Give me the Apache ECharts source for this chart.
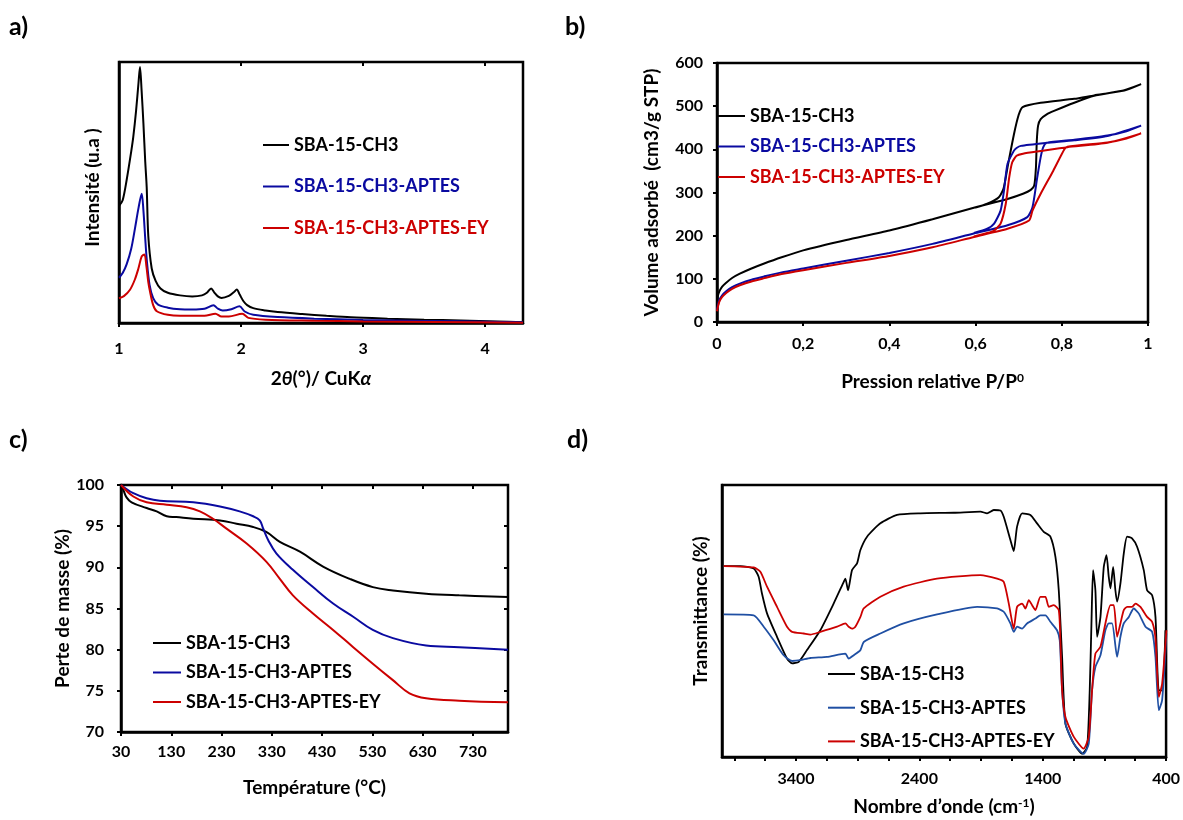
<!DOCTYPE html>
<html><head><meta charset="utf-8">
<script src="https://cdn.jsdelivr.net/npm/echarts@6/dist/echarts.min.js"></script>
<style>html,body{margin:0;padding:0;background:#fff}#c{width:1183px;height:820px}</style>
</head><body><div id="c"></div>
<script>
const seriesNames = ['SBA-15-CH3','SBA-15-CH3-APTES','SBA-15-CH3-APTES-EY'];

// a) XRD : [2theta, intensity (a.u.)]
const xrdCH3 = [[1.0,45.8],[1.03,48],[1.063,56],[1.1,67],[1.117,72.7],[1.14,83],[1.16,94],[1.172,100],[1.185,91],[1.2,78],[1.215,63],[1.227,53],[1.24,34],[1.268,21.3],[1.3,16.5],[1.34,13.5],[1.4,11.8],[1.5,10.8],[1.6,10.4],[1.68,10.8],[1.72,11.8],[1.755,13.5],[1.78,12],[1.81,10.4],[1.84,9.8],[1.9,10.6],[1.94,12],[1.965,13.1],[1.99,11],[2.02,8.5],[2.05,7],[2.1,5.8],[2.2,4.9],[2.3,4.3],[2.5,3.5],[2.7,2.8],[2.9,2.2],[3.2,1.7],[3.5,1.3],[3.8,1.0],[4.1,0.6],[4.31,0.3]];
const xrdAPTES = [[1.0,17.7],[1.03,19.5],[1.063,23],[1.1,29],[1.131,37],[1.16,45],[1.186,50.5],[1.2,44],[1.215,33],[1.227,25],[1.25,15],[1.28,9.7],[1.32,7.2],[1.4,6.0],[1.5,5.4],[1.6,5.3],[1.7,5.6],[1.774,6.9],[1.81,5.6],[1.85,4.9],[1.92,5.4],[1.987,6.5],[2.03,4.5],[2.1,3.2],[2.3,2.3],[2.6,1.7],[3.0,1.2],[3.5,0.8],[4.0,0.5],[4.31,0.3]];
const xrdEY = [[1.0,9.7],[1.04,10.5],[1.09,13],[1.13,17],[1.159,21.3],[1.186,26],[1.208,26.8],[1.225,22],[1.24,16],[1.254,12.3],[1.28,7],[1.31,4.6],[1.4,3.2],[1.5,2.8],[1.7,2.8],[1.79,3.6],[1.84,2.5],[1.9,2.5],[2.01,3.6],[2.06,2.0],[2.2,1.3],[2.6,0.9],[3.0,0.6],[3.6,0.4],[4.31,0.1]];

// b) N2 isotherms : [P/P0, volume] adsorption then desorption
const isoCH3 = [[0,45],[0.002,60],[0.006,72],[0.012,82],[0.02,90],[0.035,102],[0.053,112],[0.08,124],[0.108,135],[0.15,150],[0.2,166],[0.3,190],[0.4,212],[0.5,238],[0.6,266],[0.674,285],[0.71,297],[0.728,306],[0.736,316],[0.74,358],[0.742,420],[0.745,455],[0.751,470],[0.765,481],[0.782,489],[0.829,508],[0.875,524],[0.945,537],[0.984,551],
  [0.945,536],[0.875,525],[0.829,517],[0.751,508],[0.709,498],[0.7,480],[0.689,435],[0.674,358],[0.665,310],[0.654,289],[0.627,274],[0.6,265]];
const isoAPTES = [[0,28],[0.005,50],[0.012,62],[0.022,72],[0.035,81],[0.053,89],[0.08,98],[0.108,105],[0.15,115],[0.2,124],[0.3,142],[0.4,160],[0.5,181],[0.596,205],[0.674,224],[0.72,243],[0.732,266],[0.743,335],[0.751,382],[0.757,405],[0.765,415],[0.829,422],[0.906,432],[0.95,442],[0.984,455],
  [0.906,431],[0.829,421],[0.765,415],[0.705,408],[0.695,403],[0.689,397],[0.674,366],[0.666,305],[0.658,258],[0.643,228],[0.627,216],[0.596,206]];
const isoEY = [[0,25],[0.005,46],[0.012,58],[0.022,68],[0.035,77],[0.053,85],[0.08,94],[0.108,101],[0.15,111],[0.2,120],[0.3,137],[0.4,153],[0.5,173],[0.596,197],[0.674,216],[0.724,235],[0.732,258],[0.751,297],[0.78,350],[0.806,400],[0.813,406],[0.906,416],[0.95,425],[0.984,437],
  [0.906,415],[0.813,405],[0.75,396],[0.71,390],[0.695,385],[0.685,370],[0.678,335],[0.67,274],[0.658,228],[0.643,212],[0.627,206],[0.596,198]];

// c) TGA : [temperature, mass %]
const tgaCH3 = [[30,100],[34.6,99.4],[41,98.5],[51,97.9],[81,97.2],[101,96.8],[121,96.2],[140,96.1],[174,95.9],[227,95.7],[260,95.3],[293,94.9],[319,94.3],[346,93.1],[386,91.9],[432,90.1],[485,88.6],[531,87.6],[571,87.2],[637,86.8],[703,86.6],[800,86.4]];
const tgaAPTES = [[30,100],[54.5,99],[81,98.4],[107.5,98.1],[174,97.9],[227,97.4],[266,96.8],[293,96.2],[306,95.7],[313,94.7],[323,93.3],[339,91.7],[372,89.7],[412,87.6],[452,85.6],[492,84.0],[531,82.4],[571,81.4],[637,80.5],[703,80.3],[800,80.0]];
const tgaEY = [[30,100],[54.5,98.6],[81,97.9],[121,97.6],[160.5,97.3],[187,96.8],[213,95.9],[240,94.7],[280,92.9],[319,90.7],[346,88.6],[372,86.6],[412,84.4],[452,82.4],[492,80.3],[531,78.3],[571,76.3],[604,74.7],[637,74.1],[703,73.8],[800,73.6]];

// d) FTIR : [wavenumber, transmittance (a.u.)]
const irCH3 = [[3986,70.2],[3851,70.2],[3743,69.3],[3703,66.3],[3676,60.1],[3635,52.8],[3554,44.2],[3473,36.2],[3432,34.4],[3378,35.0],[3311,39.3],[3203,46.6],[3095,56.4],[3013,64.4],[3000,65.6],[2978,61.3],[2946,68.7],[2905,71.2],[2878,76.1],[2824,81.0],[2716,85.9],[2581,89.0],[2392,89.6],[2121,89.8],[1905,90.2],[1851,89.6],[1797,90.8],[1743,90.6],[1716,88.3],[1662,79.8],[1635,75.7],[1608,84.7],[1567,89.6],[1500,89.0],[1446,85.9],[1392,82.8],[1338,81.0],[1297,73.6],[1270,61.3],[1243,36.8],[1216,12.3],[1148,4.9],[1081,1.2],[1040,3.7],[1019,24.5],[1005,49.1],[992,68.7],[973,61.3],[959,44.2],[932,51.5],[905,69.9],[883,74.2],[865,66.3],[851,62.0],[829,69.9],[811,61.3],[797,57.1],[770,63.8],[743,74.8],[716,81.0],[676,80.4],[635,77.3],[581,68.7],[554,61.3],[513,59.5],[486,51.5],[459,24.5],[432,24.5],[405,46.6]];
const irAPTES = [[3986,52.4],[3743,52.1],[3662,47.9],[3581,42.9],[3500,37.4],[3432,35.3],[3365,35.6],[3284,36.4],[3149,36.8],[3000,38.0],[2973,36.2],[2932,37.4],[2878,39.3],[2851,42.3],[2716,45.4],[2527,49.1],[2257,52.4],[1932,55.2],[1770,54.6],[1716,53.4],[1662,49.1],[1635,46.0],[1608,47.9],[1567,47.2],[1527,49.1],[1459,50.9],[1419,52.1],[1378,52.1],[1338,49.7],[1284,46.6],[1262,42.9],[1243,24.5],[1216,12.3],[1148,4.9],[1068,1.2],[1027,4.9],[1000,24.5],[973,33.1],[932,37.4],[892,46.6],[865,49.1],[838,49.1],[797,36.8],[770,44.2],[743,49.1],[702,51.5],[662,54.6],[622,52.8],[567,47.9],[513,46.0],[486,36.8],[459,17.2],[432,20.9],[397,45.4]];
const irEY = [[3986,70.2],[3743,69.7],[3689,68.1],[3635,62.6],[3554,55.2],[3473,47.9],[3432,46.0],[3338,45.4],[3284,45.0],[3203,46.0],[3067,47.9],[3000,49.1],[2973,47.9],[2946,47.2],[2919,47.9],[2878,51.5],[2851,54.6],[2716,58.9],[2527,62.6],[2257,65.6],[1905,66.9],[1770,65.6],[1716,64.4],[1675,56.4],[1635,47.2],[1608,55.2],[1567,56.4],[1540,54.6],[1513,57.7],[1486,55.8],[1459,54.0],[1419,58.9],[1378,58.9],[1351,55.2],[1311,55.8],[1270,54.0],[1257,42.9],[1243,24.5],[1216,14.7],[1148,7.4],[1068,3.1],[1027,7.4],[1000,24.5],[973,38.0],[932,40.5],[892,49.1],[851,55.8],[824,55.8],[797,44.2],[770,49.1],[743,54.0],[716,55.2],[676,55.2],[648,56.4],[608,55.2],[554,51.5],[513,49.7],[486,43.6],[459,22.1],[432,27.0],[397,46.6]];

const xrdTicks = [1,2,3,4];
const tempTicks = [30,130,230,330,430,530,630,730];
const irLabels = [3400,2400,1400,400];

const F = 'Lato, "Open Sans", sans-serif';
const K = '#000';
const BLUE = '#0a0aa0', RED = '#cc0000', BLUE_D = '#1f4fa3';
const NF = 19;

const chart = echarts.init(document.getElementById('c'), null, {renderer:'canvas'});

const nameStyle = (pad) => ({fontFamily:F, fontWeight:'bold', fontSize:NF, color:K, padding:pad||0,
  rich:{i:{fontFamily:F, fontWeight:'bold', fontStyle:'italic', fontSize:NF, color:K},
        sup:{fontFamily:F, fontWeight:'bold', fontSize:12, color:K, verticalAlign:'top'}}});
const labStyle = (margin, extra) => Object.assign({fontFamily:F, fontWeight:'bold', fontSize:16, color:K, margin}, extra||{});
const line = {show:true, lineStyle:{color:K, width:2.5}};

function axis(o){
  return Object.assign({type:'value', splitLine:{show:false}, axisLine:line, nameTextStyle:nameStyle(), nameLocation:'middle'}, o);
}
function ghost(o){ // inside ticks so that ticks cross the axis line
  return Object.assign({type:'value', splitLine:{show:false}, axisLine:{show:false}, axisLabel:{show:false},
    axisTick:{show:true, inside:true, length:4, lineStyle:{color:K, width:2}}}, o);
}
const outTick = {show:true, inside:false, length:4, lineStyle:{color:K, width:2}};

function ser(name, data, color, xi, yi, w, smooth){
  return {type:'line', name, data, xAxisIndex:xi, yAxisIndex:yi, showSymbol:false, symbol:'none',
    smooth, lineStyle:{color, width:w}, itemStyle:{color}, animation:false, z:3};
}
function legend(left, top, gap, iw, colors, textColors){
  return {orient:'vertical', left, top, itemGap:gap, itemWidth:iw, itemHeight:2, icon:'rect', selectedMode:false,
    padding:0, textStyle:{fontFamily:F, fontWeight:'bold', fontSize:18, lineHeight:20, color:K},
    data: seriesNames.map((n,i)=>({name:n, itemStyle:{color:colors[i]}, textStyle:{color:textColors[i]}}))};
}
const frame = {show:true, borderColor:K, borderWidth:2.5, backgroundColor:'transparent'};
const panelFont = 'bold 25px Lato';

const option = {
  backgroundColor:'#fff',
  animation:false,
  grid:[
    Object.assign({left:119, top:62, width:404, height:261}, frame),
    Object.assign({left:717, top:63, width:431, height:259}, frame),
    Object.assign({left:121, top:485, width:387, height:247}, frame),
    Object.assign({left:722, top:485, width:445, height:272}, frame)
  ],
  xAxis:[
    axis({gridIndex:0, min:1, max:4.31, interval:1, axisTick:outTick,
      axisLabel:labStyle(18,{showMaxLabel:false, formatter:v=>xrdTicks.includes(v)?String(v):''}),
      name:'2{i|θ}(°)/ CuK{i|α}', nameGap:46}),
    axis({gridIndex:1, min:0, max:1, interval:0.2, axisTick:outTick,
      axisLabel:labStyle(14,{formatter:v=>String(+v.toFixed(1)).replace('.',',')}),
      name:'Pression relative P/P{sup|0}', nameGap:50}),
    axis({gridIndex:2, min:30, max:800, interval:100, axisTick:outTick,
      axisLabel:labStyle(12,{showMaxLabel:false, formatter:v=>tempTicks.includes(v)?String(v):''}),
      name:'Température (°C)', nameGap:46}),
    axis({gridIndex:3, min:400, max:4000, interval:250, inverse:true, axisTick:outTick,
      axisLabel:labStyle(14,{showMinLabel:true, showMaxLabel:false, formatter:v=>irLabels.includes(v)?String(v):''}),
      name:'Nombre d’onde (cm{sup|-1})', nameGap:40}),
    ghost({gridIndex:0, min:1, max:4.31, interval:1}),
    ghost({gridIndex:1, min:0, max:1, interval:0.2}),
    ghost({gridIndex:2, min:30, max:800, interval:100})
  ],
  yAxis:[
    axis({gridIndex:0, min:0, max:102, axisTick:{show:false}, axisLabel:{show:false}, name:'Intensité (u.a )', nameGap:17, nameTextStyle:nameStyle([0,0,0,10])}),
    axis({gridIndex:1, min:0, max:600, interval:100, axisTick:outTick, axisLabel:labStyle(14), name:'Volume adsorbé  (cm3/g STP)', nameGap:56}),
    axis({gridIndex:2, min:70, max:100, interval:5, axisTick:outTick, axisLabel:labStyle(17), name:'Perte de masse (%)', nameGap:46}),
    axis({gridIndex:3, min:0, max:100, axisTick:{show:false}, axisLabel:{show:false}, name:'Transmittance (%)', nameGap:12, nameTextStyle:nameStyle([0,0,0,20])}),
    ghost({gridIndex:1, min:0, max:600, interval:100}),
    ghost({gridIndex:2, min:70, max:100, interval:5})
  ],
  legend:[
    legend(263, 135, 21.5, 26, [K,BLUE,RED], [K,BLUE,RED]),
    legend(718, 106, 10.5, 27, [K,BLUE,RED], [K,BLUE,RED]),
    legend(153, 633, 9.5, 28, [K,BLUE,RED], [K,K,K]),
    legend(828, 664, 13.7, 27, [K,BLUE_D,RED], [K,K,K])
  ],
  graphic:[
    {type:'text', left:9, top:14, style:{text:'a)', font:panelFont, fill:K}},
    {type:'text', left:565, top:14, style:{text:'b)', font:panelFont, fill:K}},
    {type:'text', left:9, top:427, style:{text:'c)', font:panelFont, fill:K}},
    {type:'text', left:567, top:427, style:{text:'d)', font:panelFont, fill:K}}
  ],
  series:[
    ser(seriesNames[0], xrdCH3, K, 0, 0, 2, 0.3),
    ser(seriesNames[1], xrdAPTES, BLUE, 0, 0, 2, 0.3),
    ser(seriesNames[2], xrdEY, RED, 0, 0, 2, 0.3),
    ser(seriesNames[0], isoCH3, K, 1, 1, 2, 0.2),
    ser(seriesNames[1], isoAPTES, BLUE, 1, 1, 2, 0.2),
    ser(seriesNames[2], isoEY, RED, 1, 1, 2, 0.2),
    ser(seriesNames[0], tgaCH3, K, 2, 2, 2, 0.4),
    ser(seriesNames[1], tgaAPTES, BLUE, 2, 2, 2, 0.4),
    ser(seriesNames[2], tgaEY, RED, 2, 2, 2, 0.4),
    ser(seriesNames[0], irCH3, K, 3, 3, 1.8, 0.2),
    ser(seriesNames[1], irAPTES, BLUE_D, 3, 3, 1.8, 0.2),
    ser(seriesNames[2], irEY, RED, 3, 3, 1.8, 0.2)
  ]
};
chart.setOption(option);
</script></body></html>
